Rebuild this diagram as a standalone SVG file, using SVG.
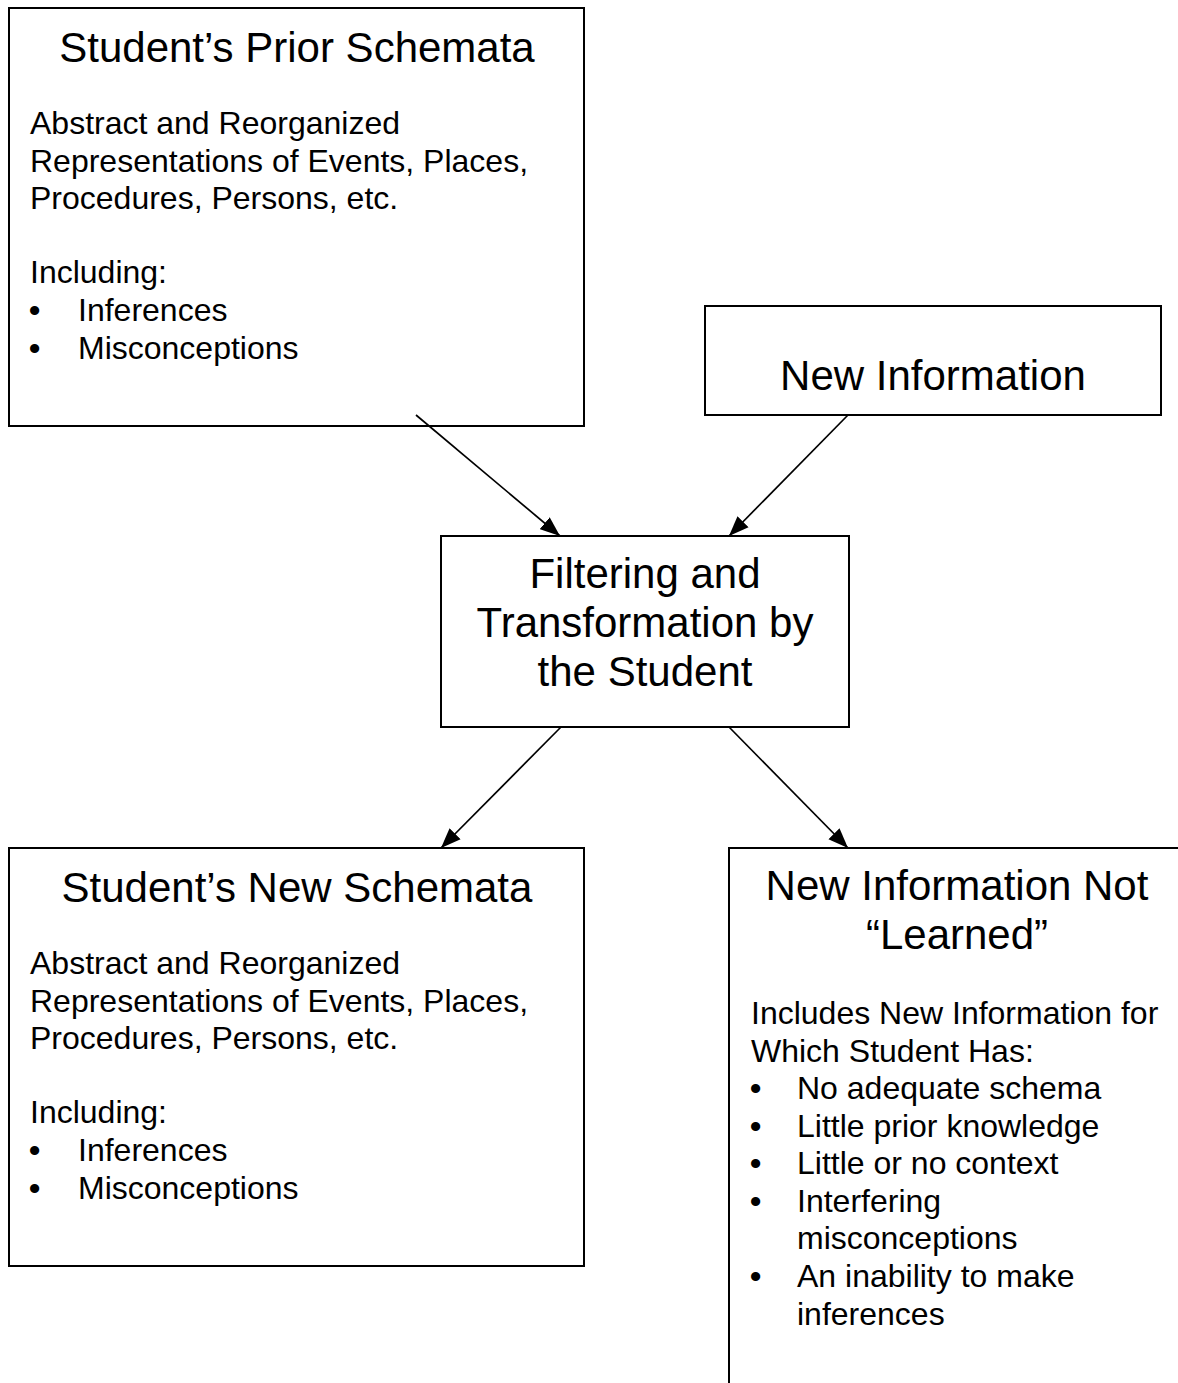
<svg xmlns="http://www.w3.org/2000/svg" width="1178" height="1383" viewBox="0 0 1178 1383">
<defs>
<style>
.box{fill:#fff;stroke:#000;stroke-width:2}
.t{font-family:"Liberation Sans",Arial,sans-serif;fill:#000}
.h{font-size:42px;text-anchor:middle}
.b{font-size:32px}
.d{font-size:32px;font-weight:bold}
.c{stroke:#000;stroke-width:1.7;fill:none;marker-end:url(#ah)}
</style>
<marker id="ah" markerUnits="userSpaceOnUse" markerWidth="20" markerHeight="16" refX="18" refY="7" orient="auto" viewBox="0 0 18 14">
<path d="M0,0 L18,7 L0,14 Z" fill="#000"/>
</marker>
</defs>
<rect width="1178" height="1383" fill="#fff"/>
<g id="prior">
<rect class="box" x="9" y="8" width="575" height="418"/>
<text class="t h" x="297" y="62">Student’s Prior Schemata</text>
<text class="t b" x="30" y="134">Abstract and Reorganized</text>
<text class="t b" x="30" y="171.5">Representations of Events, Places,</text>
<text class="t b" x="30" y="209">Procedures, Persons, etc.</text>
<text class="t b" x="30" y="283">Including:</text>
<text class="t d" x="29" y="321">•</text><text class="t b" x="78" y="321">Inferences</text>
<text class="t d" x="29" y="359">•</text><text class="t b" x="78" y="359">Misconceptions</text>
</g>
<g id="newinfo">
<rect class="box" x="705" y="306" width="456" height="109"/>
<text class="t h" x="933" y="390">New Information</text>
</g>
<g id="filter">
<rect class="box" x="441" y="536" width="408" height="191"/>
<text class="t h" x="645" y="588">Filtering and</text>
<text class="t h" x="645" y="637">Transformation by</text>
<text class="t h" x="645" y="686">the Student</text>
</g>
<g id="newschema">
<rect class="box" x="9" y="848" width="575" height="418"/>
<text class="t h" x="297" y="902">Student’s New Schemata</text>
<text class="t b" x="30" y="974">Abstract and Reorganized</text>
<text class="t b" x="30" y="1011.5">Representations of Events, Places,</text>
<text class="t b" x="30" y="1049">Procedures, Persons, etc.</text>
<text class="t b" x="30" y="1123">Including:</text>
<text class="t d" x="29" y="1161">•</text><text class="t b" x="78" y="1161">Inferences</text>
<text class="t d" x="29" y="1199">•</text><text class="t b" x="78" y="1199">Misconceptions</text>
</g>
<g id="notlearned">
<rect class="box" x="729" y="848" width="460" height="600"/>
<text class="t h" x="957" y="900">New Information Not</text>
<text class="t h" x="957" y="949">“Learned”</text>
<text class="t b" x="751" y="1024">Includes New Information for</text>
<text class="t b" x="751" y="1061.5">Which Student Has:</text>
<text class="t d" x="750" y="1099">•</text><text class="t b" x="797" y="1099">No adequate schema</text>
<text class="t d" x="750" y="1136.5">•</text><text class="t b" x="797" y="1136.5">Little prior knowledge</text>
<text class="t d" x="750" y="1174">•</text><text class="t b" x="797" y="1174">Little or no context</text>
<text class="t d" x="750" y="1211.5">•</text><text class="t b" x="797" y="1211.5">Interfering</text>
<text class="t b" x="797" y="1249">misconceptions</text>
<text class="t d" x="750" y="1287">•</text><text class="t b" x="797" y="1287">An inability to make</text>
<text class="t b" x="797" y="1325">inferences</text>
</g>
<g id="connectors">
<line class="c" x1="416" y1="415" x2="560" y2="536"/>
<line class="c" x1="848" y1="415" x2="729" y2="536"/>
<line class="c" x1="561" y1="727" x2="441" y2="848"/>
<line class="c" x1="729" y1="727" x2="848" y2="848"/>
</g>
</svg>
